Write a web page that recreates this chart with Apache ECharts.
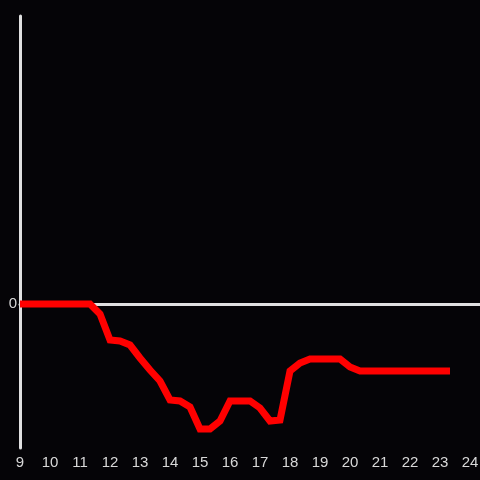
<!DOCTYPE html>
<html>
<head>
<meta charset="utf-8">
<script src="https://cdn.jsdelivr.net/npm/echarts@6/dist/echarts.min.js"></script>
<style>
html, body { margin: 0; padding: 0; background: #050407; overflow: hidden; }
#chart { width: 100vw; height: 100vh; }
</style>
</head>
<body>
<div id="chart"></div>
<script>
// hours of the day (every 20 minutes)
var hours = [9, 9.333, 9.667, 10, 10.333, 10.667, 11, 11.333, 11.667, 12, 12.333, 12.667,
    13, 13.333, 13.667, 14, 14.333, 14.667, 15, 15.333, 15.667, 16, 16.333, 16.667,
    17, 17.333, 17.667, 18, 18.333, 18.667, 19, 19.333, 19.667, 20, 20.333, 20.667,
    21, 21.333, 21.667, 22, 22.333, 22.667, 23, 23.333];
var values = [0, 0, 0, 0, 0, 0, 0, 0, -0.10, -0.36, -0.37, -0.41,
    -0.54, -0.66, -0.77, -0.96, -0.97, -1.03, -1.25, -1.25, -1.17, -0.97, -0.97, -0.97,
    -1.04, -1.17, -1.16, -0.67, -0.59, -0.55, -0.55, -0.55, -0.55, -0.63, -0.67, -0.67,
    -0.67, -0.67, -0.67, -0.67, -0.67, -0.67, -0.67, -0.67];
var xLabels = [9, 10, 11, 12, 13, 14, 15, 16, 17, 18, 19, 20, 21, 22, 23, 24];

var data = [];
for (var i = 0; i < hours.length; i++) {
    data.push([hours[i], values[i]]);
}

var chart = echarts.init(document.getElementById('chart'));
var option = {
    backgroundColor: '#050407',
    animation: false,
    textStyle: { fontFamily: 'Liberation Sans' },
    grid: { left: 20, right: 0, top: 16, bottom: 32, containLabel: false, outerBoundsMode: 'none' },
    xAxis: [
        {
            type: 'value',
            min: 9,
            max: 24.333,
            interval: 1,
            position: 'bottom',
            axisLine: { show: true, onZero: true, lineStyle: { color: '#e0e0e0', width: 3 } },
            axisTick: { show: false },
            axisLabel: { show: false },
            splitLine: { show: false }
        },
        {
            type: 'value',
            min: 9,
            max: 24.333,
            interval: 1,
            position: 'bottom',
            axisLine: { show: false, onZero: false },
            axisTick: { show: false },
            splitLine: { show: false },
            axisLabel: {
                color: '#d8d8d8',
                fontSize: 15,
                fontFamily: 'Liberation Sans',
                margin: 7,
                formatter: function (v) {
                    var r = Math.round(v);
                    return xLabels.indexOf(r) >= 0 && Math.abs(v - r) < 0.01 ? String(r) : '';
                }
            }
        }
    ],
    yAxis: {
        type: 'value',
        min: -1.44,
        max: 2.88,
        axisLine: { show: true, lineStyle: { color: '#e0e0e0', width: 3 } },
        axisTick: { show: false },
        splitLine: { show: false },
        axisLabel: {
            color: '#d8d8d8',
            fontSize: 15,
            fontFamily: 'Liberation Sans',
            margin: 3,
            formatter: function (v) {
                return Math.abs(v) < 1e-9 ? '0' : '';
            }
        }
    },
    series: [
        {
            type: 'line',
            xAxisIndex: 0,
            data: data,
            showSymbol: false,
            symbol: 'none',
            lineStyle: { color: '#ff0000', width: 7, cap: 'butt', join: 'miter' }
        }
    ]
};
chart.setOption(option);
</script>
</body>
</html>
